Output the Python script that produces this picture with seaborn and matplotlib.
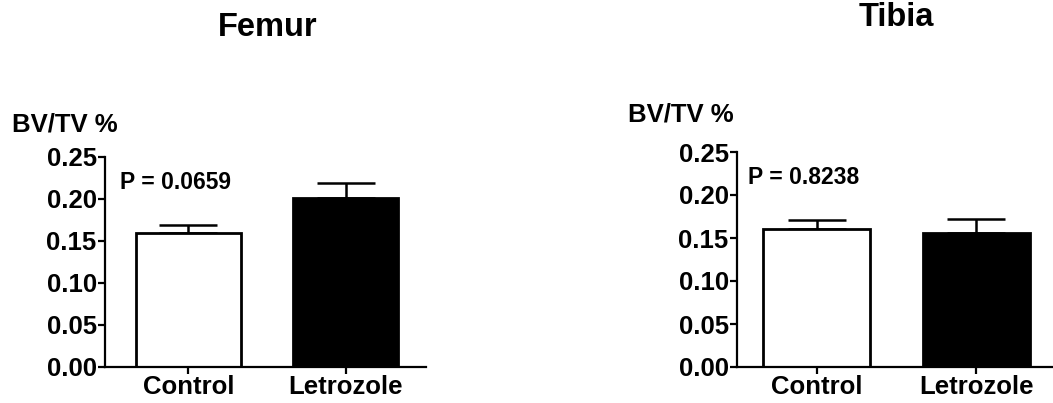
import matplotlib
matplotlib.use("Agg")
import matplotlib.pyplot as plt
import seaborn as sns
import pandas as pd

groups = ["Control", "Letrozole"]
femur_mean = [0.160, 0.201]
femur_sem = [0.0095, 0.018]
tibia_mean = [0.160, 0.156]
tibia_sem = [0.011, 0.016]
yticks = [0.00, 0.05, 0.10, 0.15, 0.20, 0.25]
ytick_labels = ["0.00", "0.05", "0.10", "0.15", "0.20", "0.25"]
panels = ["Femur", "Tibia"]
pvalues = ["P = 0.0659", "P = 0.8238"]
ylabel = "BV/TV %"

sns.set_theme(style="ticks")
plt.rcParams['font.family'] = ['Liberation Sans', 'DejaVu Sans']
plt.rcParams['font.weight'] = 'bold'
plt.rcParams['text.color'] = 'black'
plt.rcParams['xtick.color'] = 'black'
plt.rcParams['ytick.color'] = 'black'

W, H = 1053, 403
fig = plt.figure(figsize=(W / 100, H / 100), dpi=100)

def px_axes(left, right, top, bottom):
    return fig.add_axes([left / W, 1 - bottom / H, (right - left) / W, (bottom - top) / H])

ax1 = px_axes(105, 426, 157, 367)
ax2 = px_axes(737, 1053, 152, 367)

specs = [
    (ax1, femur_mean, femur_sem, (-0.53, 1.51)),
    (ax2, tibia_mean, tibia_sem, (-0.5, 1.48)),
]

for ax, means, sems, xl in specs:
    df = pd.DataFrame({"group": groups, "value": means})
    sns.barplot(data=df, x="group", y="value", hue="group",
                palette=["white", "black"], edgecolor="black",
                linewidth=2.0, width=0.67, legend=False, ax=ax, errorbar=None)
    ax.errorbar([0, 1], means, yerr=[[0, 0], sems], fmt="none",
                ecolor="black", elinewidth=1.8, capsize=21, capthick=1.8, zorder=1)
    for b in ax.patches:
        b.set_zorder(2)
    ax.set_ylim(0, 0.25)
    ax.set_xlim(*xl)
    ax.set_yticks(yticks)
    ax.set_yticklabels(ytick_labels, fontsize=18.5, fontweight="bold", color="black")
    ax.set_xticks([0, 1])
    ax.set_xticklabels(groups, fontsize=18.5, fontweight="bold", color="black")
    ax.set_xlabel("")
    ax.set_ylabel("")
    sns.despine(ax=ax)
    for s in ["left", "bottom"]:
        ax.spines[s].set_linewidth(1.6)
        ax.spines[s].set_color("black")
    ax.tick_params(axis="both", width=1.6, length=5, color="black", pad=1, labelcolor="black")
    ax.set_facecolor("white")

fig.text(268 / W, 1 - 27 / H, panels[0], ha="center", va="center", fontsize=23.5, fontweight="bold")
fig.text(896 / W, 1 - 18 / H, panels[1], ha="center", va="center", fontsize=23.5, fontweight="bold")
fig.text(12 / W, 1 - 124 / H, ylabel, ha="left", va="center", fontsize=18.5, fontweight="bold")
fig.text(628 / W, 1 - 115 / H, ylabel, ha="left", va="center", fontsize=18.5, fontweight="bold")
fig.text(120 / W, 1 - 182 / H, pvalues[0], ha="left", va="center", fontsize=16.5, fontweight="bold")
fig.text(748 / W, 1 - 177 / H, pvalues[1], ha="left", va="center", fontsize=16.5, fontweight="bold")

fig.savefig("out.png", dpi=100, facecolor="white")
